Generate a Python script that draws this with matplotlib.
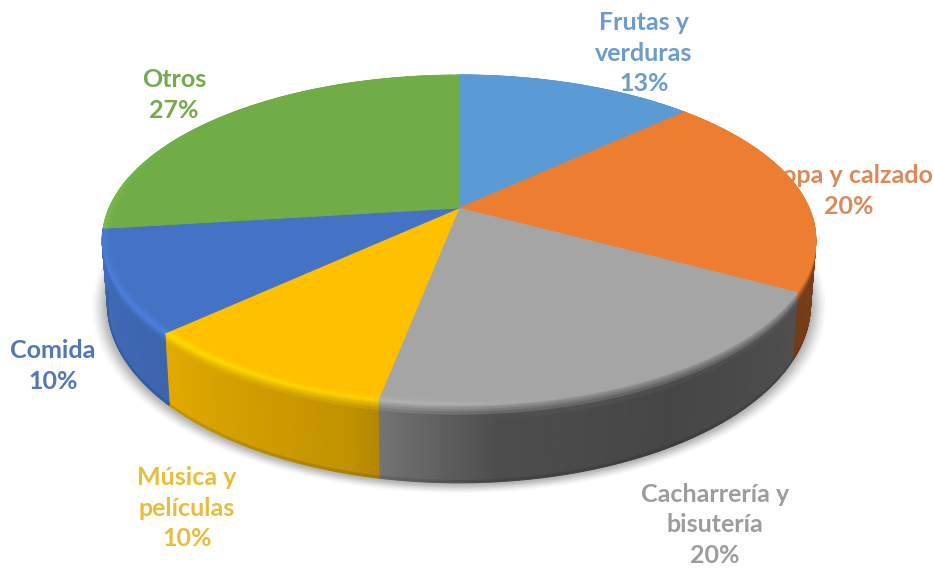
import numpy as np
import matplotlib
matplotlib.use("Agg")
import matplotlib.pyplot as plt
from matplotlib.collections import PolyCollection
from matplotlib.colors import to_rgb

categories = ["Frutas y\nverduras", "Ropa y calzado", "Cacharrería y\nbisutería",
              "Música y\npelículas", "Comida", "Otros"]
values = [13, 20, 20, 10, 10, 27]

slice_colors = ["#5B9BD5", "#ED7D31", "#A5A5A5", "#FFC000", "#4472C4", "#70AD47"]
label_colors = ["#6C9CC9", "#D98A58", "#9C9C9C", "#E9BD3C", "#5377B3", "#74A94E"]
label_centers = [(644, 53), (849, 191), (715, 525), (187, 508), (53, 366), (174, 95)]

# picture geometry, pixels
W, H = 933, 569
APEX = (459, 208)
SX, SY, K = 350.0, 158.8, 0.194   # perspective of the tilted disc
DEPTH, GROW_Y, SHRINK_X = 62.0, 1.08, 0.985


def top_point(t, r=1.0):
    u, v = r * np.sin(t), r * np.cos(t)
    d = 1 + K * v
    return APEX[0] + SX * u / d, APEX[1] - SY * v / d


def bottom_point(t, grow=1.0):
    x, y = top_point(t)
    return (APEX[0] + (x - APEX[0]) * SHRINK_X * grow,
            APEX[1] + DEPTH + (y - APEX[1]) * GROW_Y * grow)


def wall_shade(t):
    # bright on the left, dark towards the lower right
    deg = np.degrees(t) % 360
    return np.interp(deg, [0, 110, 150, 175, 195, 225, 262, 360],
                     [0.5, 0.5, 0.42, 0.47, 0.76, 0.88, 0.95, 0.95])


def rim_light(t):
    deg = np.degrees(t) % 360
    return np.interp(deg, [0, 165, 190, 225, 262, 300, 360], [0, 0, 0.6, 1, 0.7, 0, 0])


fig = plt.figure(figsize=(W / 100, H / 100), dpi=100)
ax = fig.add_axes([0, 0, 1, 1])
ax.set_xlim(0, W)
ax.set_ylim(H, 0)
ax.axis("off")

# labels sit behind the pie, it covers part of them
for name, val, col, (cx, cy) in zip(categories, values, label_colors, label_centers):
    ax.text(cx, cy, f"{name}\n{val}%", color=col, ha="center", va="center", ma="center",
            family="Lato", weight="bold", fontsize=18, linespacing=1.38, zorder=1)

# soft shadow round the lower rim
tt = np.linspace(0, 2 * np.pi, 361)
for i in range(14):
    g = 1.045 - i * 0.003
    bx, by = bottom_point(tt, g)
    ax.fill(bx, by + 1, color="#000000", alpha=0.012 + i * 0.0015, lw=0, zorder=2)

edges = np.cumsum([0] + values) / sum(values) * 2 * np.pi
bands = np.array([-0.035, -0.02, -0.01, 0.0, 0.03, 0.06, 0.09, 0.13, 0.2, 0.6, 0.97, 1.0])

wall_quads, wall_cols, bevel_quads, bevel_cols = [], [], [], []
for k, base in enumerate(slice_colors):
    base = np.array(to_rgb(base))
    n = values[k] * 8
    ts = np.linspace(edges[k], edges[k + 1], n + 1)
    # last slice is at the back, its wall never shows
    is_back = k == len(slice_colors) - 1
    for a, b in zip(ts[:-1], ts[1:]):
        mid = (a + b) / 2
        shade, light = wall_shade(mid), rim_light(mid)
        wall = base * shade
        bright = np.clip(base * (1 + 0.16 * light), 0, 1)
        for s0, s1 in zip(bands[:-1], bands[1:]):
            pts = []
            for t, s in ((a, s0), (b, s0), (b, s1), (a, s1)):
                if s <= 0:
                    pts.append(top_point(t, 1 + s))
                else:
                    tx, ty = top_point(t)
                    bx, by = bottom_point(t)
                    pts.append((tx + (bx - tx) * s, ty + (by - ty) * s))
            sm = (s0 + s1) / 2
            if sm < 0:
                c = base + (bright - base) * (1 + sm / 0.035) ** 2
                bevel_quads.append(pts)
                bevel_cols.append(np.clip(c, 0, 1))
                continue
            if is_back:
                continue
            if sm < 0.18 * (1 - light * 0.3):
                f = sm / (0.18 * (1 - light * 0.3))
                c = bright + (wall - bright) * f ** 0.8
            else:
                c = wall
            if sm > 0.96:
                c = c * 0.88
            wall_quads.append(pts)
            wall_cols.append(np.clip(c, 0, 1))

ax.add_collection(PolyCollection(wall_quads, facecolors=wall_cols, edgecolors=wall_cols,
                                 linewidths=0.8, zorder=3))

# top of each slice hides the back of the wall
for k, base in enumerate(slice_colors):
    ts = np.linspace(edges[k], edges[k + 1], 120)
    x, y = top_point(ts)
    ax.fill(np.r_[APEX[0], x], np.r_[APEX[1], y], color=base, lw=0.6, zorder=4)

ax.add_collection(PolyCollection(bevel_quads, facecolors=bevel_cols, edgecolors=bevel_cols,
                                 linewidths=0.4, zorder=5))

fig.savefig("out.png", dpi=100)
